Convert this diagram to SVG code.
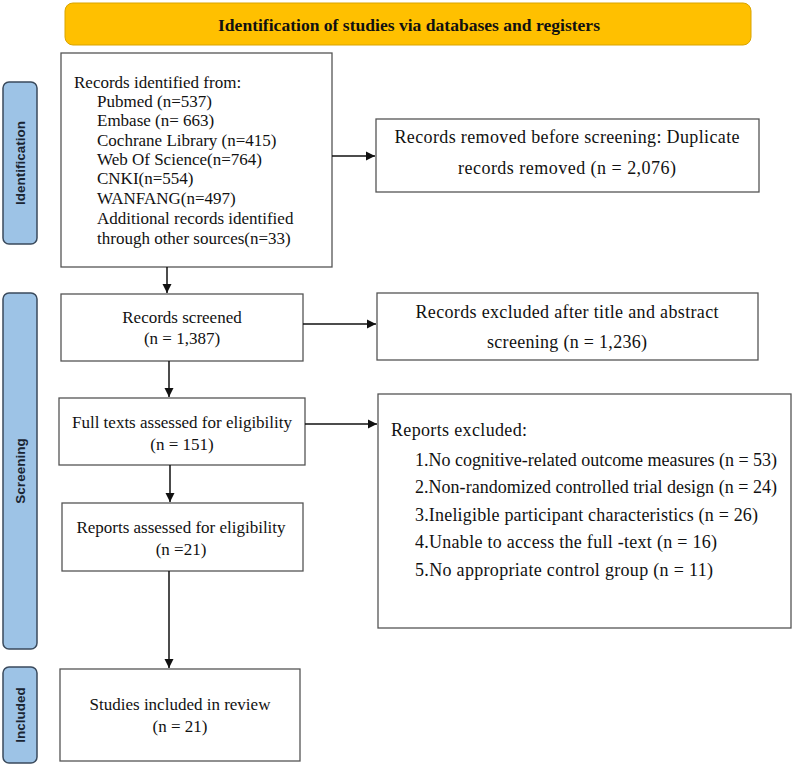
<svg xmlns="http://www.w3.org/2000/svg" width="794" height="767" viewBox="0 0 794 767">
<style>
.box{fill:#fff;stroke:#555;stroke-width:1.3}
.side{fill:#9DC3E6;stroke:#3a4a5c;stroke-width:1.5}
.t{font-family:"Liberation Serif","Times New Roman",serif;font-size:17px;fill:#111}
.r{font-size:18px}
.c{text-anchor:middle}
.s{font-family:"Liberation Sans",Arial,sans-serif;font-size:13.5px;font-weight:bold;fill:#1a2533;text-anchor:middle}
.ln{stroke:#111;stroke-width:1.5;fill:none;marker-end:url(#ah)}
</style>
<defs>
<marker id="ah" markerWidth="10" markerHeight="10" refX="9" refY="5" orient="auto" markerUnits="userSpaceOnUse">
<path d="M0,0.5 L9,5 L0,9.5 Z" fill="#111"/>
</marker>
</defs>
<g id="banner">
<rect x="65" y="3" width="686" height="42" rx="8" fill="#FFC000" stroke="#D9A400" stroke-width="1"/>
<text x="409" y="31" class="t c" style="font-weight:bold;font-size:16px" textLength="382" lengthAdjust="spacingAndGlyphs">Identification of studies via databases and registers</text>
</g>
<g id="label-identification">
<rect class="side" x="3" y="82" width="34" height="162" rx="6"/>
<text class="s" transform="translate(25,163) rotate(-90)">Identification</text>
</g>
<g id="label-screening">
<rect class="side" x="3" y="293" width="34" height="356" rx="6"/>
<text class="s" transform="translate(25,471) rotate(-90)">Screening</text>
</g>
<g id="label-included">
<rect class="side" x="3" y="667" width="34" height="96" rx="6"/>
<text class="s" transform="translate(25,715) rotate(-90)">Included</text>
</g>
<g id="records-identified">
<rect class="box" x="61" y="53" width="271" height="214"/>
<text class="t" x="74" y="88">Records identified from:</text>
<text class="t" x="97" y="107">Pubmed (n=537)</text>
<text class="t" x="97" y="126">Embase (n= 663)</text>
<text class="t" x="97" y="146">Cochrane Library (n=415)</text>
<text class="t" x="97" y="165">Web Of Science(n=764)</text>
<text class="t" x="97" y="184">CNKI(n=554)</text>
<text class="t" x="97" y="204">WANFANG(n=497)</text>
<text class="t" x="97" y="224">Additional records identified</text>
<text class="t" x="97" y="244">through other sources(n=33)</text>
</g>
<g id="records-removed">
<rect class="box" x="376" y="119" width="383" height="73"/>
<text class="t r c" x="567" y="143" textLength="345">Records removed before screening: Duplicate</text>
<text class="t r c" x="567" y="174" textLength="218">records removed (n = 2,076)</text>
</g>
<g id="records-screened">
<rect class="box" x="61" y="294" width="242" height="67"/>
<text class="t c" x="182" y="323">Records screened</text>
<text class="t c" x="182" y="344">(n = 1,387)</text>
</g>
<g id="records-excluded">
<rect class="box" x="377" y="293" width="381" height="67"/>
<text class="t r c" x="567" y="318" textLength="303">Records excluded after title and abstract</text>
<text class="t r c" x="567" y="348" textLength="160">screening (n = 1,236)</text>
</g>
<g id="full-texts">
<rect class="box" x="59" y="398" width="246" height="67"/>
<text class="t c" x="182" y="428">Full texts assessed for eligibility</text>
<text class="t c" x="182" y="450">(n = 151)</text>
</g>
<g id="reports-excluded">
<rect class="box" x="378" y="394" width="413" height="234"/>
<text class="t r" x="391" y="436" textLength="136">Reports excluded:</text>
<text class="t r" x="415" y="466" textLength="362">1.No cognitive-related outcome measures (n = 53)</text>
<text class="t r" x="415" y="493" textLength="362">2.Non-randomized controlled trial design (n = 24)</text>
<text class="t r" x="415" y="521" textLength="343">3.Ineligible participant characteristics (n = 26)</text>
<text class="t r" x="415" y="548" textLength="302">4.Unable to access the full -text (n = 16)</text>
<text class="t r" x="415" y="576" textLength="298">5.No appropriate control group (n = 11)</text>
</g>
<g id="reports-assessed">
<rect class="box" x="62" y="503" width="241" height="68"/>
<text class="t c" x="181" y="533">Reports assessed for eligibility</text>
<text class="t c" x="181" y="555">(n =21)</text>
</g>
<g id="studies-included">
<rect class="box" x="60" y="669" width="240" height="92"/>
<text class="t c" x="180" y="710">Studies included in review</text>
<text class="t c" x="180" y="732">(n = 21)</text>
</g>
<g id="connectors">
<line class="ln" x1="332" y1="156" x2="375" y2="156"/>
<line class="ln" x1="167" y1="267" x2="167" y2="293"/>
<line class="ln" x1="303" y1="324" x2="376" y2="324"/>
<line class="ln" x1="169" y1="361" x2="169" y2="397"/>
<line class="ln" x1="305" y1="424" x2="377" y2="424"/>
<line class="ln" x1="170" y1="465" x2="170" y2="502"/>
<line class="ln" x1="169" y1="571" x2="169" y2="668"/>
</g>
</svg>
